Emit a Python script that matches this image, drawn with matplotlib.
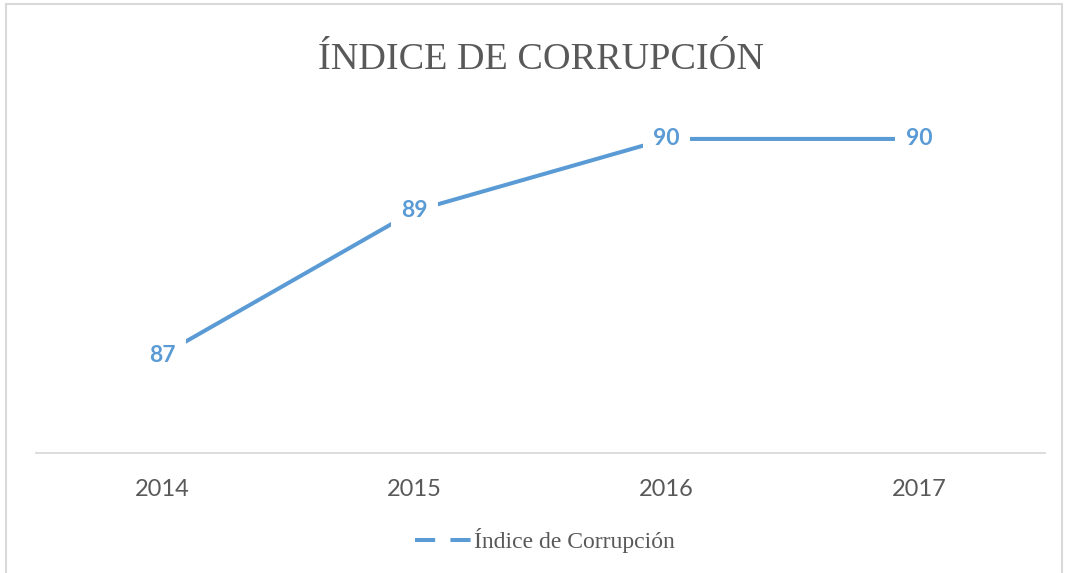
import matplotlib
matplotlib.use("Agg")
import matplotlib.pyplot as plt
from matplotlib.lines import Line2D
from matplotlib.patches import Rectangle

# data
years = ["2014", "2015", "2016", "2017"]
index_values = [87, 89, 90, 90]
series_name = "Índice de Corrupción"
chart_title = "ÍNDICE DE CORRUPCIÓN"

blue = "#5B9BD5"
gray_text = "#595959"

fig = plt.figure(figsize=(10.65, 5.73), dpi=100)
ax = fig.add_axes([0.0338, 0.2094, 0.9474, 0.616])

x = list(range(len(years)))
ax.plot(x, index_values, color=blue, lw=2.9, solid_capstyle="butt", zorder=2)

# data labels sit on the points, white box cuts the line around them
for xi, v in zip(x, index_values):
    ax.text(xi, v, str(v), ha="center", va="center", fontsize=16.5, fontweight="bold",
            family="Lato", color=blue, zorder=3,
            bbox=dict(boxstyle="square,pad=0.45", fc="white", ec="none"))

ax.set_xlim(-0.5, len(years) - 0.5)
ax.set_ylim(85.64, 90.54)
ax.set_xticks(x)
ax.set_xticklabels(years, family="Lato", fontsize=17, color=gray_text)
ax.set_yticks([])
ax.tick_params(axis="x", length=0, pad=19)
for side in ["top", "left", "right"]:
    ax.spines[side].set_visible(False)
ax.spines["bottom"].set_color("#D9D9D9")
ax.spines["bottom"].set_linewidth(1.3)

fig.text(0.508, 0.8796, chart_title, ha="center", va="baseline",
         family="Liberation Serif", fontsize=27.5, color=gray_text)

# legend with broken line sample
handle = Line2D([], [], color=blue, lw=2.9, dashes=(5.0, 3.8), dash_capstyle="butt")
leg = fig.legend([handle], [series_name], loc="center", bbox_to_anchor=(0.512, 0.056),
                 frameon=False, handlelength=2.4, handletextpad=0.1,
                 prop={"family": "Liberation Serif", "size": 17})
for t in leg.get_texts():
    t.set_color(gray_text)

# light frame around the chart (bottom edge runs off the picture)
fig.patches.append(Rectangle((6 / 1065, -0.02), 1056 / 1065, 1.013, transform=fig.transFigure,
                             fill=False, ec="#D9D9D9", lw=1.5))

fig.savefig("out.png", dpi=100)
